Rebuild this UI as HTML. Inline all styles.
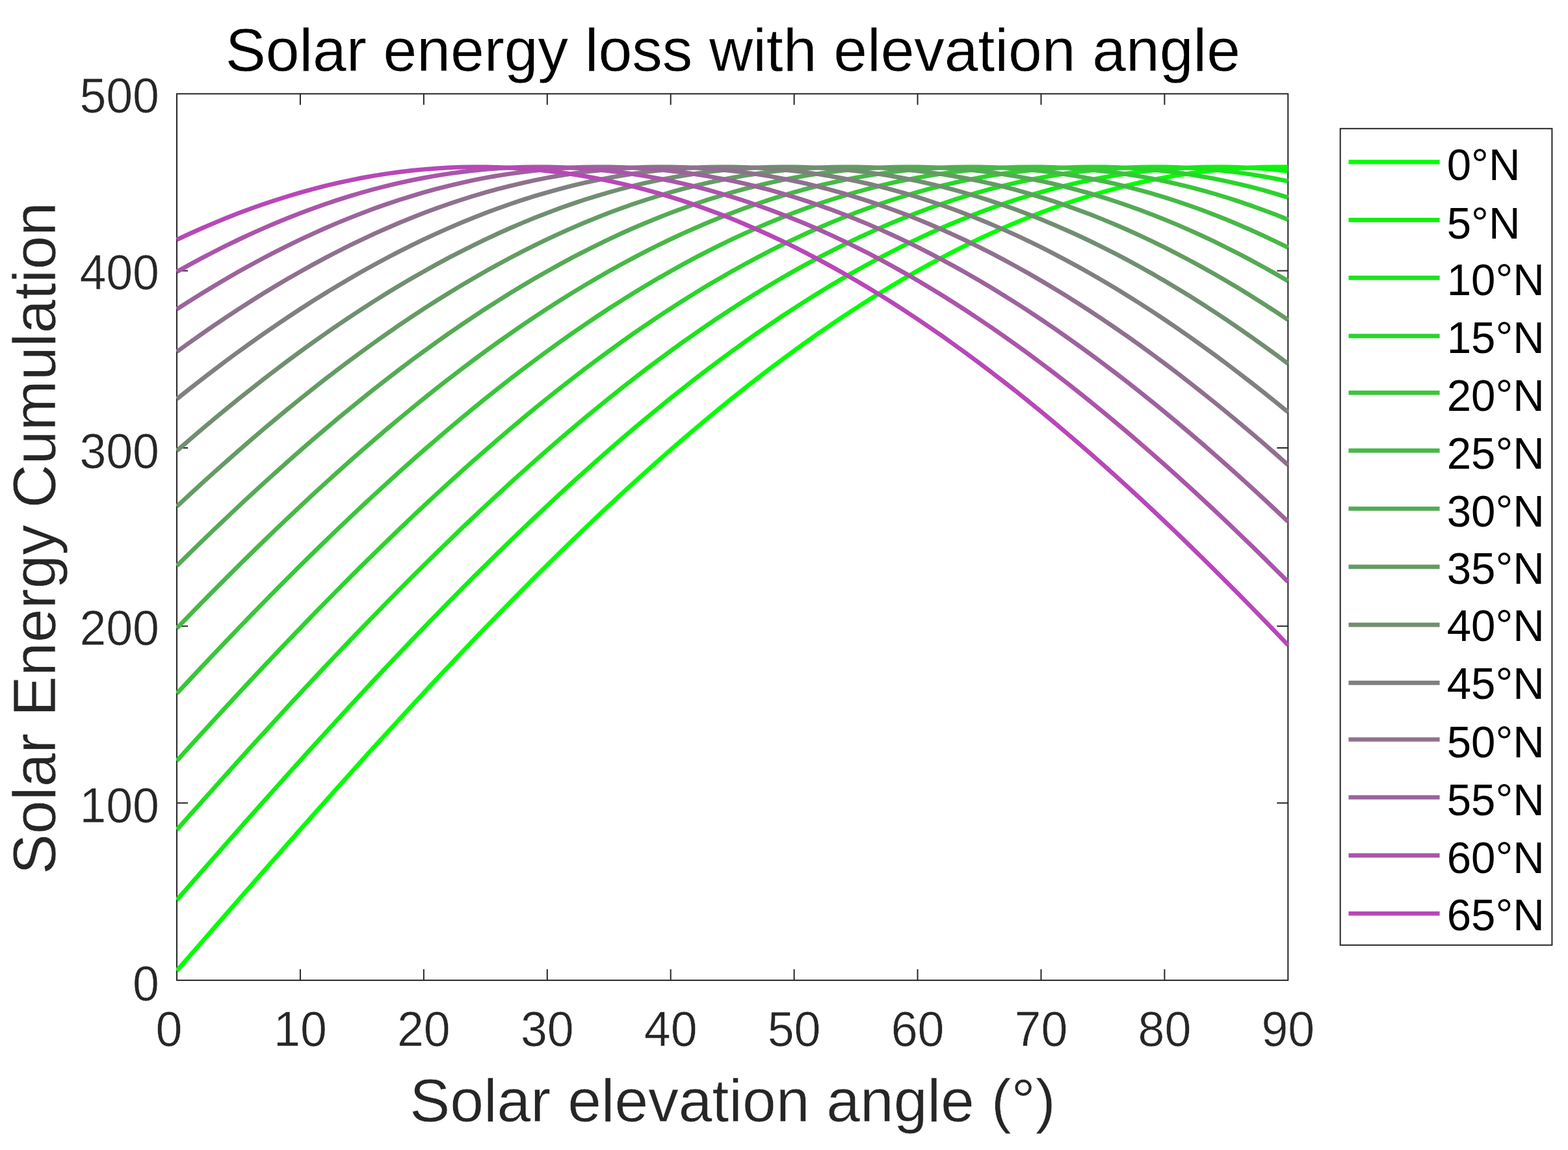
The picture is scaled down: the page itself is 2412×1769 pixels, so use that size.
<!DOCTYPE html>
<html lang="en">
<head>
<meta charset="utf-8">
<title>Solar energy loss with elevation angle</title>
<style>
html,body{margin:0;padding:0;background:#ffffff;}
body{width:2412px;height:1769px;overflow:hidden;}
svg{display:block;}
text{font-family:"Liberation Sans",Arial,Helvetica,sans-serif;}
.tk{font-size:73.5px;fill:#262626;stroke:#fff;stroke-width:0.6px;}
.lb{font-size:93.0px;fill:#262626;stroke:#fff;stroke-width:0.6px;}
.tt{font-size:93.0px;fill:#000;stroke:#fff;stroke-width:0.4px;}
.lg{font-size:67.2px;fill:#000;}
.cv{fill:none;stroke-width:6.7;stroke-linejoin:round;stroke-linecap:butt;}
.ax{stroke:#262626;stroke-width:2.0;fill:none;}
</style>
</head>
<body>
<svg xmlns="http://www.w3.org/2000/svg" width="2412" height="1769" viewBox="0 0 2412 1769">
<rect x="0" y="0" width="2412" height="1769" fill="#ffffff"/>
<defs><clipPath id="pc"><rect x="271" y="143.3" width="1712.3" height="1365.6"/></clipPath></defs>
<text class="tt" x="1127.3" y="109" text-anchor="middle">Solar energy loss with elevation angle</text>
<text class="lb" x="1127" y="1725.2" text-anchor="middle">Solar elevation angle (°)</text>
<text class="lb" transform="translate(85.4 828) rotate(-90)" text-anchor="middle">Solar Energy Cumulation</text>
<g class="ax">
<rect x="272" y="144.3" width="1709.3" height="1363.6"/>
<path d="M461.92 1507.9v-17M461.92 144.3v17M651.84 1507.9v-17M651.84 144.3v17M841.77 1507.9v-17M841.77 144.3v17M1031.69 1507.9v-17M1031.69 144.3v17M1221.61 1507.9v-17M1221.61 144.3v17M1411.53 1507.9v-17M1411.53 144.3v17M1601.46 1507.9v-17M1601.46 144.3v17M1791.38 1507.9v-17M1791.38 144.3v17M272 1235.3h17M1981.3 1235.3h-17M272 963.2h17M1981.3 963.2h-17M272 688.9h17M1981.3 688.9h-17M272 416.6h17M1981.3 416.6h-17"/>
</g>
<g class="tk" text-anchor="middle">
<text transform="translate(260 1609) scale(1 1.04)">0</text>
<text transform="translate(461.92 1609) scale(1 1.04)">10</text>
<text transform="translate(651.84 1609) scale(1 1.04)">20</text>
<text transform="translate(841.77 1609) scale(1 1.04)">30</text>
<text transform="translate(1031.69 1609) scale(1 1.04)">40</text>
<text transform="translate(1221.61 1609) scale(1 1.04)">50</text>
<text transform="translate(1411.53 1609) scale(1 1.04)">60</text>
<text transform="translate(1601.46 1609) scale(1 1.04)">70</text>
<text transform="translate(1791.38 1609) scale(1 1.04)">80</text>
<text transform="translate(1981.3 1609) scale(1 1.04)">90</text>
</g>
<g class="tk" text-anchor="end">
<text transform="translate(245 1538.7) scale(1 1.04)">0</text>
<text transform="translate(245 1265.4) scale(1 1.04)">100</text>
<text transform="translate(245 992.2) scale(1 1.04)">200</text>
<text transform="translate(245 719.8) scale(1 1.04)">300</text>
<text transform="translate(245 445.45) scale(1 1.04)">400</text>
<text transform="translate(245 172.9) scale(1 1.04)">500</text>
</g>
<g class="cv" clip-path="url(#pc)">
<polyline stroke="#00ff00" points="272,1493.31 290.99,1471.44 309.98,1449.59 328.98,1427.76 347.97,1405.95 366.96,1384.17 385.95,1362.43 404.95,1340.74 423.94,1319.1 442.93,1297.51 461.92,1275.99 480.91,1254.55 499.91,1233.18 518.9,1211.89 537.89,1190.69 556.88,1169.6 575.88,1148.6 594.87,1127.72 613.86,1106.95 632.85,1086.3 651.84,1065.79 670.84,1045.4 689.83,1025.17 708.82,1005.07 727.81,985.13 746.81,965.36 765.8,945.74 784.79,926.3 803.78,907.04 822.77,887.96 841.77,869.07 860.76,850.38 879.75,831.88 898.74,813.59 917.74,795.52 936.73,777.66 955.72,760.03 974.71,742.62 993.7,725.45 1012.7,708.51 1031.69,691.82 1050.68,675.38 1069.67,659.2 1088.67,643.27 1107.66,627.61 1126.65,612.21 1145.64,597.09 1164.63,582.25 1183.63,567.69 1202.62,553.42 1221.61,539.43 1240.6,525.75 1259.6,512.36 1278.59,499.28 1297.58,486.5 1316.57,474.04 1335.56,461.89 1354.56,450.06 1373.55,438.56 1392.54,427.38 1411.53,416.53 1430.53,406.01 1449.52,395.83 1468.51,385.99 1487.5,376.49 1506.49,367.34 1525.49,358.53 1544.48,350.08 1563.47,341.98 1582.46,334.23 1601.46,326.84 1620.45,319.82 1639.44,313.15 1658.43,306.85 1677.42,300.92 1696.42,295.35 1715.41,290.16 1734.4,285.33 1753.39,280.88 1772.39,276.81 1791.38,273.1 1810.37,269.78 1829.36,266.83 1848.35,264.27 1867.35,262.08 1886.34,260.27 1905.33,258.84 1924.32,257.79 1943.32,257.13 1962.31,256.84 1981.3,256.94"/>
<polyline stroke="#0ef10e" points="272,1384.43 290.99,1362.69 309.98,1341 328.98,1319.36 347.97,1297.77 366.96,1276.25 385.95,1254.8 404.95,1233.43 423.94,1212.14 442.93,1190.95 461.92,1169.85 480.91,1148.85 499.91,1127.96 518.9,1107.19 537.89,1086.55 556.88,1066.03 575.88,1045.65 594.87,1025.41 613.86,1005.31 632.85,985.37 651.84,965.59 670.84,945.98 689.83,926.53 708.82,907.27 727.81,888.19 746.81,869.29 765.8,850.6 784.79,832.1 803.78,813.81 822.77,795.73 841.77,777.87 860.76,760.24 879.75,742.83 898.74,725.65 917.74,708.72 936.73,692.02 955.72,675.58 974.71,659.39 993.7,643.46 1012.7,627.79 1031.69,612.4 1050.68,597.27 1069.67,582.43 1088.67,567.86 1107.66,553.59 1126.65,539.6 1145.64,525.91 1164.63,512.52 1183.63,499.43 1202.62,486.65 1221.61,474.19 1240.6,462.04 1259.6,450.2 1278.59,438.69 1297.58,427.51 1316.57,416.66 1335.56,406.14 1354.56,395.95 1373.55,386.11 1392.54,376.6 1411.53,367.45 1430.53,358.64 1449.52,350.18 1468.51,342.07 1487.5,334.32 1506.49,326.93 1525.49,319.9 1544.48,313.23 1563.47,306.93 1582.46,300.99 1601.46,295.42 1620.45,290.22 1639.44,285.39 1658.43,280.93 1677.42,276.85 1696.42,273.15 1715.41,269.82 1734.4,266.87 1753.39,264.29 1772.39,262.1 1791.38,260.29 1810.37,258.86 1829.36,257.8 1848.35,257.13 1867.35,256.85 1886.34,256.94 1905.33,257.41 1924.32,258.27 1943.32,259.51 1962.31,261.13 1981.3,263.13"/>
<polyline stroke="#1ce31c" points="272,1276.51 290.99,1255.06 309.98,1233.68 328.98,1212.4 347.97,1191.2 366.96,1170.1 385.95,1149.1 404.95,1128.21 423.94,1107.44 442.93,1086.79 461.92,1066.27 480.91,1045.89 499.91,1025.65 518.9,1005.55 537.89,985.61 556.88,965.83 575.88,946.21 594.87,926.77 613.86,907.5 632.85,888.41 651.84,869.52 670.84,850.82 689.83,832.32 708.82,814.03 727.81,795.95 746.81,778.09 765.8,760.45 784.79,743.03 803.78,725.86 822.77,708.92 841.77,692.22 860.76,675.77 879.75,659.58 898.74,643.65 917.74,627.98 936.73,612.58 955.72,597.45 974.71,582.6 993.7,568.03 1012.7,553.75 1031.69,539.76 1050.68,526.07 1069.67,512.68 1088.67,499.59 1107.66,486.81 1126.65,474.33 1145.64,462.18 1164.63,450.34 1183.63,438.83 1202.62,427.64 1221.61,416.78 1240.6,406.26 1259.6,396.07 1278.59,386.22 1297.58,376.72 1316.57,367.55 1335.56,358.74 1354.56,350.28 1373.55,342.17 1392.54,334.41 1411.53,327.02 1430.53,319.98 1449.52,313.31 1468.51,307 1487.5,301.06 1506.49,295.48 1525.49,290.28 1544.48,285.44 1563.47,280.98 1582.46,276.9 1601.46,273.19 1620.45,269.86 1639.44,266.9 1658.43,264.32 1677.42,262.12 1696.42,260.31 1715.41,258.87 1734.4,257.81 1753.39,257.14 1772.39,256.85 1791.38,256.94 1810.37,257.41 1829.36,258.26 1848.35,259.49 1867.35,261.11 1886.34,263.1 1905.33,265.47 1924.32,268.23 1943.32,271.36 1962.31,274.87 1981.3,278.75"/>
<polyline stroke="#2ad42a" points="272,1170.35 290.99,1149.35 309.98,1128.46 328.98,1107.69 347.97,1087.04 366.96,1066.52 385.95,1046.13 404.95,1025.89 423.94,1005.79 442.93,985.85 461.92,966.06 480.91,946.44 499.91,927 518.9,907.73 537.89,888.64 556.88,869.74 575.88,851.04 594.87,832.54 613.86,814.25 632.85,796.16 651.84,778.3 670.84,760.65 689.83,743.24 708.82,726.06 727.81,709.12 746.81,692.42 765.8,675.97 784.79,659.77 803.78,643.84 822.77,628.16 841.77,612.76 860.76,597.63 879.75,582.78 898.74,568.21 917.74,553.92 936.73,539.93 955.72,526.23 974.71,512.84 993.7,499.74 1012.7,486.96 1031.69,474.48 1050.68,462.32 1069.67,450.48 1088.67,438.97 1107.66,427.77 1126.65,416.91 1145.64,406.38 1164.63,396.19 1183.63,386.34 1202.62,376.83 1221.61,367.66 1240.6,358.84 1259.6,350.38 1278.59,342.26 1297.58,334.5 1316.57,327.1 1335.56,320.06 1354.56,313.39 1373.55,307.07 1392.54,301.12 1411.53,295.55 1430.53,290.34 1449.52,285.5 1468.51,281.04 1487.5,276.95 1506.49,273.23 1525.49,269.89 1544.48,266.93 1563.47,264.35 1582.46,262.15 1601.46,260.33 1620.45,258.89 1639.44,257.82 1658.43,257.15 1677.42,256.85 1696.42,256.93 1715.41,257.4 1734.4,258.25 1753.39,259.47 1772.39,261.08 1791.38,263.07 1810.37,265.44 1829.36,268.19 1848.35,271.32 1867.35,274.82 1886.34,278.7 1905.33,282.96 1924.32,287.59 1943.32,292.59 1962.31,297.96 1981.3,303.7"/>
<polyline stroke="#39c639" points="272,1066.76 290.99,1046.37 309.98,1026.13 328.98,1006.03 347.97,986.08 366.96,966.3 385.95,946.68 404.95,927.23 423.94,907.96 442.93,888.87 461.92,869.97 480.91,851.26 499.91,832.76 518.9,814.46 537.89,796.38 556.88,778.51 575.88,760.86 594.87,743.45 613.86,726.26 632.85,709.32 651.84,692.62 670.84,676.16 689.83,659.97 708.82,644.03 727.81,628.35 746.81,612.94 765.8,597.81 784.79,582.95 803.78,568.38 822.77,554.09 841.77,540.1 860.76,526.39 879.75,512.99 898.74,499.9 917.74,487.11 936.73,474.63 955.72,462.47 974.71,450.62 993.7,439.1 1012.7,427.91 1031.69,417.04 1050.68,406.51 1069.67,396.31 1088.67,386.45 1107.66,376.94 1126.65,367.77 1145.64,358.95 1164.63,350.48 1183.63,342.36 1202.62,334.59 1221.61,327.19 1240.6,320.14 1259.6,313.46 1278.59,307.15 1297.58,301.19 1316.57,295.61 1335.56,290.4 1354.56,285.56 1373.55,281.09 1392.54,276.99 1411.53,273.27 1430.53,269.93 1449.52,266.97 1468.51,264.38 1487.5,262.17 1506.49,260.35 1525.49,258.9 1544.48,257.84 1563.47,257.15 1582.46,256.85 1601.46,256.93 1620.45,257.39 1639.44,258.23 1658.43,259.46 1677.42,261.06 1696.42,263.05 1715.41,265.41 1734.4,268.16 1753.39,271.28 1772.39,274.78 1791.38,278.65 1810.37,282.91 1829.36,287.53 1848.35,292.53 1867.35,297.9 1886.34,303.63 1905.33,309.74 1924.32,316.21 1943.32,323.04 1962.31,330.24 1981.3,337.79"/>
<polyline stroke="#47b847" points="272,966.53 290.99,946.91 309.98,927.46 328.98,908.18 347.97,889.09 366.96,870.19 385.95,851.49 404.95,832.98 423.94,814.68 442.93,796.59 461.92,778.72 480.91,761.07 499.91,743.65 518.9,726.47 537.89,709.52 556.88,692.81 575.88,676.36 594.87,660.16 613.86,644.21 632.85,628.54 651.84,613.13 670.84,597.99 689.83,583.13 708.82,568.55 727.81,554.26 746.81,540.26 765.8,526.56 784.79,513.15 803.78,500.05 822.77,487.26 841.77,474.78 860.76,462.61 879.75,450.76 898.74,439.24 917.74,428.04 936.73,417.17 955.72,406.63 974.71,396.43 993.7,386.57 1012.7,377.05 1031.69,367.88 1050.68,359.05 1069.67,350.57 1088.67,342.45 1107.66,334.68 1126.65,327.28 1145.64,320.23 1164.63,313.54 1183.63,307.22 1202.62,301.26 1221.61,295.68 1240.6,290.46 1259.6,285.61 1278.59,281.14 1297.58,277.04 1316.57,273.32 1335.56,269.97 1354.56,267 1373.55,264.41 1392.54,262.2 1411.53,260.37 1430.53,258.92 1449.52,257.85 1468.51,257.16 1487.5,256.85 1506.49,256.93 1525.49,257.38 1544.48,258.22 1563.47,259.44 1582.46,261.04 1601.46,263.02 1620.45,265.38 1639.44,268.12 1658.43,271.24 1677.42,274.73 1696.42,278.61 1715.41,282.85 1734.4,287.47 1753.39,292.47 1772.39,297.83 1791.38,303.56 1810.37,309.66 1829.36,316.13 1848.35,322.96 1867.35,330.15 1886.34,337.7 1905.33,345.6 1924.32,353.87 1943.32,362.48 1962.31,371.44 1981.3,380.75"/>
<polyline stroke="#55aa55" points="272,870.42 290.99,851.71 309.98,833.2 328.98,814.9 347.97,796.81 366.96,778.93 385.95,761.28 404.95,743.86 423.94,726.67 442.93,709.72 461.92,693.01 480.91,676.55 499.91,660.35 518.9,644.4 537.89,628.72 556.88,613.31 575.88,598.17 594.87,583.3 613.86,568.72 632.85,554.43 651.84,540.43 670.84,526.72 689.83,513.31 708.82,500.21 727.81,487.41 746.81,474.92 765.8,462.75 784.79,450.9 803.78,439.37 822.77,428.17 841.77,417.3 860.76,406.76 879.75,396.55 898.74,386.69 917.74,377.16 936.73,367.98 955.72,359.15 974.71,350.67 993.7,342.55 1012.7,334.78 1031.69,327.36 1050.68,320.31 1069.67,313.62 1088.67,307.29 1107.66,301.33 1126.65,295.74 1145.64,290.52 1164.63,285.67 1183.63,281.19 1202.62,277.09 1221.61,273.36 1240.6,270.01 1259.6,267.03 1278.59,264.44 1297.58,262.22 1316.57,260.39 1335.56,258.93 1354.56,257.86 1373.55,257.16 1392.54,256.85 1411.53,256.92 1430.53,257.37 1449.52,258.21 1468.51,259.42 1487.5,261.02 1506.49,263 1525.49,265.35 1544.48,268.09 1563.47,271.2 1582.46,274.69 1601.46,278.56 1620.45,282.8 1639.44,287.42 1658.43,292.4 1677.42,297.76 1696.42,303.49 1715.41,309.59 1734.4,316.05 1753.39,322.87 1772.39,330.06 1791.38,337.6 1810.37,345.51 1829.36,353.77 1848.35,362.38 1867.35,371.33 1886.34,380.64 1905.33,390.29 1924.32,400.28 1943.32,410.61 1962.31,421.27 1981.3,432.27"/>
<polyline stroke="#639c63" points="272,779.15 290.99,761.49 309.98,744.07 328.98,726.87 347.97,709.92 366.96,693.21 385.95,676.75 404.95,660.54 423.94,644.59 442.93,628.91 461.92,613.49 480.91,598.35 499.91,583.48 518.9,568.9 537.89,554.6 556.88,540.59 575.88,526.88 594.87,513.47 613.86,500.36 632.85,487.56 651.84,475.07 670.84,462.9 689.83,451.04 708.82,439.51 727.81,428.3 746.81,417.42 765.8,406.88 784.79,396.67 803.78,386.8 822.77,377.27 841.77,368.09 860.76,359.26 879.75,350.77 898.74,342.64 917.74,334.87 936.73,327.45 955.72,320.39 974.71,313.7 993.7,307.36 1012.7,301.4 1031.69,295.8 1050.68,290.58 1069.67,285.72 1088.67,281.24 1107.66,277.13 1126.65,273.4 1145.64,270.04 1164.63,267.07 1183.63,264.47 1202.62,262.25 1221.61,260.41 1240.6,258.95 1259.6,257.87 1278.59,257.17 1297.58,256.85 1316.57,256.92 1335.56,257.37 1354.56,258.2 1373.55,259.41 1392.54,261 1411.53,262.97 1430.53,265.32 1449.52,268.05 1468.51,271.16 1487.5,274.65 1506.49,278.51 1525.49,282.75 1544.48,287.36 1563.47,292.34 1582.46,297.7 1601.46,303.42 1620.45,309.51 1639.44,315.97 1658.43,322.79 1677.42,329.97 1696.42,337.51 1715.41,345.41 1734.4,353.66 1753.39,362.27 1772.39,371.23 1791.38,380.53 1810.37,390.17 1829.36,400.16 1848.35,410.49 1867.35,421.15 1886.34,432.14 1905.33,443.46 1924.32,455.1 1943.32,467.07 1962.31,479.35 1981.3,491.95"/>
<polyline stroke="#718e71" points="272,693.41 290.99,676.94 309.98,660.73 328.98,644.78 347.97,629.09 366.96,613.67 385.95,598.53 404.95,583.66 423.94,569.07 442.93,554.77 461.92,540.76 480.91,527.04 499.91,513.63 518.9,500.52 537.89,487.71 556.88,475.22 575.88,463.04 594.87,451.18 613.86,439.64 632.85,428.43 651.84,417.55 670.84,407 689.83,396.79 708.82,386.92 727.81,377.39 746.81,368.2 765.8,359.36 784.79,350.87 803.78,342.74 822.77,334.96 841.77,327.53 860.76,320.47 879.75,313.77 898.74,307.44 917.74,301.47 936.73,295.87 955.72,290.64 974.71,285.78 993.7,281.29 1012.7,277.18 1031.69,273.44 1050.68,270.08 1069.67,267.1 1088.67,264.49 1107.66,262.27 1126.65,260.42 1145.64,258.96 1164.63,257.88 1183.63,257.18 1202.62,256.86 1221.61,256.92 1240.6,257.36 1259.6,258.18 1278.59,259.39 1297.58,260.98 1316.57,262.94 1335.56,265.29 1354.56,268.02 1373.55,271.12 1392.54,274.6 1411.53,278.46 1430.53,282.69 1449.52,287.3 1468.51,292.28 1487.5,297.63 1506.49,303.35 1525.49,309.44 1544.48,315.89 1563.47,322.71 1582.46,329.88 1601.46,337.42 1620.45,345.31 1639.44,353.56 1658.43,362.17 1677.42,371.12 1696.42,380.41 1715.41,390.06 1734.4,400.04 1753.39,410.36 1772.39,421.02 1791.38,432 1810.37,443.32 1829.36,454.96 1848.35,466.92 1867.35,479.2 1886.34,491.8 1905.33,504.7 1924.32,517.91 1943.32,531.42 1962.31,545.23 1981.3,559.34"/>
<polyline stroke="#808080" points="272,613.86 290.99,598.7 309.98,583.83 328.98,569.24 347.97,554.94 366.96,540.92 385.95,527.2 404.95,513.79 423.94,500.67 442.93,487.86 461.92,475.36 480.91,463.18 499.91,451.32 518.9,439.78 537.89,428.56 556.88,417.68 575.88,407.13 594.87,396.91 613.86,387.03 632.85,377.5 651.84,368.31 670.84,359.46 689.83,350.97 708.82,342.83 727.81,335.05 746.81,327.62 765.8,320.56 784.79,313.85 803.78,307.51 822.77,301.54 841.77,295.93 860.76,290.7 879.75,285.83 898.74,281.34 917.74,277.23 936.73,273.48 955.72,270.12 974.71,267.13 993.7,264.52 1012.7,262.29 1031.69,260.44 1050.68,258.98 1069.67,257.89 1088.67,257.18 1107.66,256.86 1126.65,256.91 1145.64,257.35 1164.63,258.17 1183.63,259.37 1202.62,260.96 1221.61,262.92 1240.6,265.26 1259.6,267.98 1278.59,271.08 1297.58,274.56 1316.57,278.41 1335.56,282.64 1354.56,287.24 1373.55,292.22 1392.54,297.56 1411.53,303.28 1430.53,309.36 1449.52,315.81 1468.51,322.62 1487.5,329.8 1506.49,337.33 1525.49,345.22 1544.48,353.46 1563.47,362.06 1582.46,371.01 1601.46,380.3 1620.45,389.94 1639.44,399.92 1658.43,410.23 1677.42,420.89 1696.42,431.87 1715.41,443.18 1734.4,454.82 1753.39,466.78 1772.39,479.05 1791.38,491.64 1810.37,504.54 1829.36,517.75 1848.35,531.26 1867.35,545.07 1886.34,559.17 1905.33,573.56 1924.32,588.23 1943.32,603.19 1962.31,618.42 1981.3,633.92"/>
<polyline stroke="#8e718e" points="272,541.09 290.99,527.37 309.98,513.94 328.98,500.82 347.97,488.01 366.96,475.51 385.95,463.33 404.95,451.46 423.94,439.92 442.93,428.7 461.92,417.81 480.91,407.25 499.91,397.03 518.9,387.15 537.89,377.61 556.88,368.41 575.88,359.57 594.87,351.07 613.86,342.93 632.85,335.14 651.84,327.71 670.84,320.64 689.83,313.93 708.82,307.59 727.81,301.61 746.81,296 765.8,290.76 784.79,285.89 803.78,281.39 822.77,277.27 841.77,273.53 860.76,270.16 879.75,267.17 898.74,264.55 917.74,262.32 936.73,260.46 955.72,258.99 974.71,257.9 993.7,257.19 1012.7,256.86 1031.69,256.91 1050.68,257.34 1069.67,258.16 1088.67,259.36 1107.66,260.93 1126.65,262.89 1145.64,265.23 1164.63,267.95 1183.63,271.04 1202.62,274.52 1221.61,278.36 1240.6,282.59 1259.6,287.19 1278.59,292.16 1297.58,297.5 1316.57,303.21 1335.56,309.29 1354.56,315.73 1373.55,322.54 1392.54,329.71 1411.53,337.24 1430.53,345.12 1449.52,353.36 1468.51,361.96 1487.5,370.9 1506.49,380.19 1525.49,389.82 1544.48,399.8 1563.47,410.11 1582.46,420.76 1601.46,431.74 1620.45,443.05 1639.44,454.68 1658.43,466.63 1677.42,478.91 1696.42,491.49 1715.41,504.39 1734.4,517.59 1753.39,531.1 1772.39,544.9 1791.38,559 1810.37,573.38 1829.36,588.05 1848.35,603.01 1867.35,618.24 1886.34,633.74 1905.33,649.5 1924.32,665.53 1943.32,681.82 1962.31,698.36 1981.3,715.15"/>
<polyline stroke="#9c639c" points="272,475.66 290.99,463.47 309.98,451.6 328.98,440.05 347.97,428.83 366.96,417.94 385.95,407.38 404.95,397.15 423.94,387.26 442.93,377.72 461.92,368.52 480.91,359.67 499.91,351.17 518.9,343.02 537.89,335.23 556.88,327.79 575.88,320.72 594.87,314.01 613.86,307.66 632.85,301.68 651.84,296.06 670.84,290.82 689.83,285.95 708.82,281.45 727.81,277.32 746.81,273.57 765.8,270.2 784.79,267.2 803.78,264.58 822.77,262.34 841.77,260.48 860.76,259.01 879.75,257.91 898.74,257.19 917.74,256.86 936.73,256.91 955.72,257.34 974.71,258.15 993.7,259.34 1012.7,260.91 1031.69,262.87 1050.68,265.2 1069.67,267.91 1088.67,271 1107.66,274.47 1126.65,278.32 1145.64,282.54 1164.63,287.13 1183.63,292.1 1202.62,297.43 1221.61,303.14 1240.6,309.21 1259.6,315.65 1278.59,322.45 1297.58,329.62 1316.57,337.14 1335.56,345.03 1354.56,353.26 1373.55,361.85 1392.54,370.79 1411.53,380.08 1430.53,389.7 1449.52,399.68 1468.51,409.98 1487.5,420.63 1506.49,431.6 1525.49,442.91 1544.48,454.54 1563.47,466.49 1582.46,478.76 1601.46,491.34 1620.45,504.23 1639.44,517.43 1658.43,530.93 1677.42,544.73 1696.42,558.83 1715.41,573.21 1734.4,587.88 1753.39,602.83 1772.39,618.05 1791.38,633.55 1810.37,649.32 1829.36,665.34 1848.35,681.63 1867.35,698.16 1886.34,714.94 1905.33,731.97 1924.32,749.23 1943.32,766.73 1962.31,784.45 1981.3,802.39"/>
<polyline stroke="#aa55aa" points="272,418.06 290.99,407.5 309.98,397.27 328.98,387.38 347.97,377.83 366.96,368.63 385.95,359.77 404.95,351.27 423.94,343.12 442.93,335.32 461.92,327.88 480.91,320.8 499.91,314.09 518.9,307.73 537.89,301.75 556.88,296.13 575.88,290.88 594.87,286 613.86,281.5 632.85,277.37 651.84,273.61 670.84,270.23 689.83,267.23 708.82,264.61 727.81,262.37 746.81,260.5 765.8,259.02 784.79,257.92 803.78,257.2 822.77,256.86 841.77,256.91 860.76,257.33 879.75,258.14 898.74,259.32 917.74,260.89 936.73,262.84 955.72,265.17 974.71,267.88 993.7,270.96 1012.7,274.43 1031.69,278.27 1050.68,282.48 1069.67,287.07 1088.67,292.03 1107.66,297.37 1126.65,303.07 1145.64,309.14 1164.63,315.57 1183.63,322.37 1202.62,329.53 1221.61,337.05 1240.6,344.93 1259.6,353.16 1278.59,361.75 1297.58,370.68 1316.57,379.96 1335.56,389.59 1354.56,399.55 1373.55,409.86 1392.54,420.5 1411.53,431.47 1430.53,442.77 1449.52,454.4 1468.51,466.34 1487.5,478.61 1506.49,491.19 1525.49,504.08 1544.48,517.27 1563.47,530.77 1582.46,544.57 1601.46,558.66 1620.45,573.04 1639.44,587.7 1658.43,602.65 1677.42,617.87 1696.42,633.36 1715.41,649.13 1734.4,665.15 1753.39,681.43 1772.39,697.96 1791.38,714.74 1810.37,731.77 1829.36,749.02 1848.35,766.52 1867.35,784.23 1886.34,802.17 1905.33,820.33 1924.32,838.69 1943.32,857.26 1962.31,876.03 1981.3,894.99"/>
<polyline stroke="#b847b8" points="272,368.74 290.99,359.88 309.98,351.37 328.98,343.21 347.97,335.41 366.96,327.97 385.95,320.88 404.95,314.16 423.94,307.81 442.93,301.82 461.92,296.19 480.91,290.94 499.91,286.06 518.9,281.55 537.89,277.41 556.88,273.65 575.88,270.27 594.87,267.27 613.86,264.64 632.85,262.39 651.84,260.52 670.84,259.04 689.83,257.93 708.82,257.21 727.81,256.86 746.81,256.9 765.8,257.32 784.79,258.12 803.78,259.31 822.77,260.87 841.77,262.82 860.76,265.14 879.75,267.84 898.74,270.93 917.74,274.38 936.73,278.22 955.72,282.43 974.71,287.02 993.7,291.97 1012.7,297.3 1031.69,303 1050.68,309.06 1069.67,315.49 1088.67,322.29 1107.66,329.44 1126.65,336.96 1145.64,344.83 1164.63,353.06 1183.63,361.64 1202.62,370.57 1221.61,379.85 1240.6,389.47 1259.6,399.43 1278.59,409.73 1297.58,420.37 1316.57,431.34 1335.56,442.63 1354.56,454.26 1373.55,466.2 1392.54,478.46 1411.53,491.04 1430.53,503.92 1449.52,517.11 1468.51,530.61 1487.5,544.4 1506.49,558.49 1525.49,572.86 1544.48,587.52 1563.47,602.47 1582.46,617.69 1601.46,633.18 1620.45,648.94 1639.44,664.96 1658.43,681.23 1677.42,697.76 1696.42,714.54 1715.41,731.56 1734.4,748.82 1753.39,766.31 1772.39,784.02 1791.38,801.96 1810.37,820.11 1829.36,838.47 1848.35,857.04 1867.35,875.8 1886.34,894.76 1905.33,913.91 1924.32,933.23 1943.32,952.74 1962.31,972.41 1981.3,992.24"/>
</g>
<rect class="ax" x="2061.7" y="197.8" width="325.7" height="1256" fill="#fff" style="fill:#fff"/>
<g class="cv">
<line x1="2074.5" x2="2214.6" y1="249.15" y2="249.15" stroke="#00ff00"/>
<line x1="2074.5" x2="2214.6" y1="338.3" y2="338.3" stroke="#0ef10e"/>
<line x1="2074.5" x2="2214.6" y1="427.46" y2="427.46" stroke="#1ce31c"/>
<line x1="2074.5" x2="2214.6" y1="516.95" y2="516.95" stroke="#2ad42a"/>
<line x1="2074.5" x2="2214.6" y1="604.2" y2="604.2" stroke="#39c639"/>
<line x1="2074.5" x2="2214.6" y1="693.2" y2="693.2" stroke="#47b847"/>
<line x1="2074.5" x2="2214.6" y1="782.5" y2="782.5" stroke="#55aa55"/>
<line x1="2074.5" x2="2214.6" y1="871.9" y2="871.9" stroke="#639c63"/>
<line x1="2074.5" x2="2214.6" y1="961.2" y2="961.2" stroke="#718e71"/>
<line x1="2074.5" x2="2214.6" y1="1050.3" y2="1050.3" stroke="#808080"/>
<line x1="2074.5" x2="2214.6" y1="1137.5" y2="1137.5" stroke="#8e718e"/>
<line x1="2074.5" x2="2214.6" y1="1226.5" y2="1226.5" stroke="#9c639c"/>
<line x1="2074.5" x2="2214.6" y1="1315.85" y2="1315.85" stroke="#aa55aa"/>
<line x1="2074.5" x2="2214.6" y1="1405.25" y2="1405.25" stroke="#b847b8"/>
</g>
<g class="lg">
<text transform="translate(2225.7 277.25) scale(1 1.025)">0°N</text>
<text transform="translate(2225.7 366.55) scale(1 1.025)">5°N</text>
<text transform="translate(2225.7 453.95) scale(1 1.025)">10°N</text>
<text transform="translate(2225.7 542.65) scale(1 1.025)">15°N</text>
<text transform="translate(2225.7 631.75) scale(1 1.025)">20°N</text>
<text transform="translate(2225.7 721.15) scale(1 1.025)">25°N</text>
<text transform="translate(2225.7 810.1) scale(1 1.025)">30°N</text>
<text transform="translate(2225.7 898.25) scale(1 1.025)">35°N</text>
<text transform="translate(2225.7 985.85) scale(1 1.025)">40°N</text>
<text transform="translate(2225.7 1075.15) scale(1 1.025)">45°N</text>
<text transform="translate(2225.7 1165.05) scale(1 1.025)">50°N</text>
<text transform="translate(2225.7 1254.45) scale(1 1.025)">55°N</text>
<text transform="translate(2225.7 1342.95) scale(1 1.025)">60°N</text>
<text transform="translate(2225.7 1431.45) scale(1 1.025)">65°N</text>
</g>
</svg>
</body>
</html>
